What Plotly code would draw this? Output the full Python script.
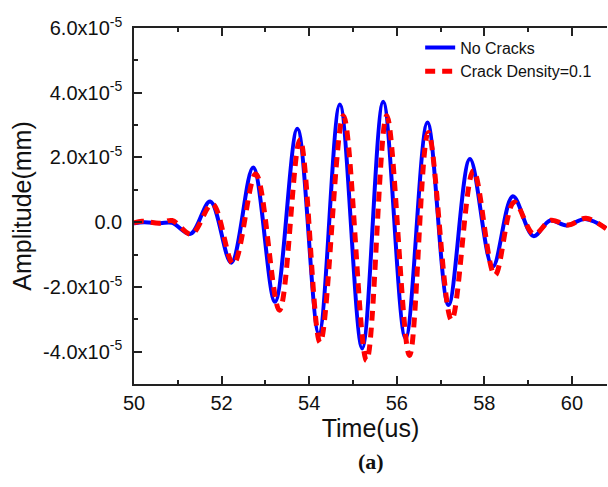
import plotly.graph_objects as go

# Time (us) and amplitude (x1e-5 mm)
t_blue = [50.0, 50.23, 50.59, 50.87, 51.29, 51.74, 52.22, 52.72, 53.22, 53.73, 54.22, 54.70,
          55.21, 55.69, 56.20, 56.70, 57.18, 57.67, 58.19, 58.65, 59.12, 59.50, 59.88, 60.30, 60.78]
a_blue = [-0.03, 0.0, -0.03, -0.02, -0.36, 0.64, -1.25, 1.69, -2.46, 2.89, -3.44, 3.64,
          -3.90, 3.72, -3.59, 3.08, -2.56, 1.95, -1.38, 0.80, -0.43, 0.05, -0.10, 0.10, -0.18]

t_red = [50.0, 50.18, 50.59, 50.87, 51.31, 51.79, 52.27, 52.78, 53.32, 53.79, 54.25, 54.78,
         55.31, 55.77, 56.29, 56.72, 57.25, 57.75, 58.24, 58.68, 59.13, 59.52, 59.91, 60.32, 60.80]
a_red = [-0.02, 0.03, -0.03, 0.05, -0.37, 0.56, -1.29, 1.49, -2.72, 2.55, -3.72, 3.29,
         -4.28, 3.29, -4.12, 2.77, -3.02, 1.59, -1.64, 0.62, -0.37, 0.06, -0.09, 0.12, -0.22]

scale = 1e-5
y_tickvals = [-4e-5, -2e-5, 0.0, 2e-5, 4e-5, 6e-5]
y_ticktext = ["-4.0x10<sup>-5</sup>", "-2.0x10<sup>-5</sup>", "0.0",
              "2.0x10<sup>-5</sup>", "4.0x10<sup>-5</sup>", "6.0x10<sup>-5</sup>"]
y_minor = [-5e-5, -3e-5, -1e-5, 1e-5, 3e-5, 5e-5]
x_tickvals = [50, 52, 54, 56, 58, 60]
x_minor = [51, 53, 55, 57, 59]

fig = go.Figure()
fig.add_trace(go.Scatter(
    x=t_blue, y=[v * scale for v in a_blue], mode="lines", name="No Cracks",
    line=dict(color="#0000ff", width=4, shape="spline", smoothing=1.0)))
fig.add_trace(go.Scatter(
    x=t_red, y=[v * scale for v in a_red], mode="lines", name="Crack Density=0.1",
    line=dict(color="#ff0000", width=5, dash="10px,7px", shape="spline", smoothing=1.0)))

axis_font = dict(family="Liberation Sans, Arial, sans-serif", size=20, color="#111")
fig.update_layout(
    width=608, height=487,
    margin=dict(l=134, r=1, t=28, b=103),
    paper_bgcolor="white", plot_bgcolor="white",
    font=dict(family="Liberation Sans, Arial, sans-serif", color="#111"),
    showlegend=True,
    legend=dict(x=0.605, y=0.993, xanchor="left", yanchor="top",
                font=dict(size=16, family="Liberation Sans, Arial, sans-serif", color="#111"),
                bgcolor="rgba(0,0,0,0)", tracegroupgap=0),
    xaxis=dict(range=[50, 60.8], tickmode="array", tickvals=x_tickvals,
               ticktext=[str(v) for v in x_tickvals],
               ticks="inside", ticklen=8, tickwidth=1.5, tickcolor="#222",
               minor=dict(tickvals=x_minor, ticks="inside", ticklen=4, tickwidth=1.5, tickcolor="#222"),
               showline=True, linecolor="#222", linewidth=1.5, mirror="ticks",
               showgrid=False, zeroline=False, tickfont=axis_font,
               title=dict(text="Time(us)", font=dict(size=25, family="Liberation Sans, Arial, sans-serif", color="#111"),
                          standoff=6)),
    yaxis=dict(range=[-5e-5, 6e-5], tickmode="array", tickvals=y_tickvals, ticktext=y_ticktext,
               ticks="inside", ticklen=8, tickwidth=1.5, tickcolor="#222",
               minor=dict(tickvals=y_minor, ticks="inside", ticklen=4, tickwidth=1.5, tickcolor="#222"),
               showline=True, linecolor="#222", linewidth=1.5, mirror=False,
               showgrid=False, zeroline=False, tickfont=axis_font, ticklabelstandoff=6,
               title=dict(text="Amplitude(mm)", font=dict(size=25, family="Liberation Sans, Arial, sans-serif", color="#111"),
                          standoff=4)),
    annotations=[dict(text="<b>(a)</b>", x=0.5, y=-0.217, xref="paper", yref="paper",
                      xanchor="center", yanchor="middle", showarrow=False,
                      font=dict(family="Liberation Serif, serif", size=22, color="#111"))],
)

fig.write_html("out.html")
